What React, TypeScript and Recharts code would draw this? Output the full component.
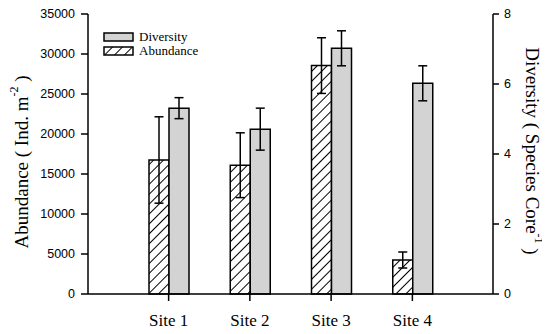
import React from 'react';
import { BarChart, Bar, XAxis, YAxis, ErrorBar, Legend } from 'recharts';

const sites = ['Site 1', 'Site 2', 'Site 3', 'Site 4'];
const abundance = [16750, 16100, 28550, 4250];
const abundanceErr = [5400, 4050, 3480, 1000];
const diversity = [5.31, 4.71, 7.02, 6.02];
const diversityErr = [0.3, 0.6, 0.5, 0.5];
const abundanceTicks = [0, 5000, 10000, 15000, 20000, 25000, 30000, 35000];
const diversityTicks = [0, 2, 4, 6, 8];

const data = sites.map((site, i) => ({
  site,
  abundance: abundance[i],
  abundanceErr: abundanceErr[i],
  diversity: diversity[i],
  diversityErr: diversityErr[i],
}));

const SERIF = '"Liberation Serif", "Times New Roman", serif';
const SANS = '"Liberation Sans", Arial, sans-serif';
const GRAY = '#d3d3d3';

const LeftTitle = (props: any) => {
  const vb = props.viewBox || { x: 0, y: 6, width: 80, height: 280 };
  const cx = vb.x + 13;
  const cy = vb.y + vb.height / 2 + 8;
  return (
    <text
      x={cx}
      y={cy}
      transform={`rotate(-90 ${cx} ${cy})`}
      textAnchor="middle"
      dominantBaseline="central"
      fontFamily={SERIF}
      fontSize={19}
      fill="#000"
    >
      Abundance ( Ind. m
      <tspan dy={-7} fontSize={12}>-2</tspan>
      <tspan dy={7}> )</tspan>
    </text>
  );
};

const RightTitle = (props: any) => {
  const vb = props.viewBox || { x: 485, y: 6, width: 57, height: 280 };
  const cx = vb.x + 39;
  const cy = vb.y + vb.height / 2 - 3;
  return (
    <text
      x={cx}
      y={cy}
      transform={`rotate(90 ${cx} ${cy})`}
      textAnchor="middle"
      dominantBaseline="central"
      fontFamily={SERIF}
      fontSize={19}
      fill="#000"
    >
      Diversity ( Species Core
      <tspan dy={-7} fontSize={12}>-1</tspan>
      <tspan dy={7}> )</tspan>
    </text>
  );
};

const LegendContent = () => (
  <div style={{ fontFamily: SERIF, fontSize: 13, color: '#000', lineHeight: '14px' }}>
    <div style={{ display: 'flex', alignItems: 'center', height: 14 }}>
      <svg width={31} height={10} style={{ marginRight: 5 }}>
        <rect x={1} y={1} width={29} height={8} fill={GRAY} stroke="#000" strokeWidth={1.5} />
      </svg>
      <span>Diversity</span>
    </div>
    <div style={{ display: 'flex', alignItems: 'center', height: 14 }}>
      <svg width={31} height={10} style={{ marginRight: 5 }}>
        <defs>
          <pattern id="hatchLegend" patternUnits="userSpaceOnUse" width={7} height={7} patternTransform="rotate(45)">
            <rect width={7} height={7} fill="#fff" />
            <line x1={0} y1={0} x2={0} y2={7} stroke="#000" strokeWidth={2} />
          </pattern>
        </defs>
        <rect x={1} y={1} width={29} height={8} fill="url(#hatchLegend)" stroke="#000" strokeWidth={1.5} />
      </svg>
      <span>Abundance</span>
    </div>
  </div>
);

export default function App() {
  return (
    <div style={{ width: 542, height: 318, overflow: 'visible' }}>
      <BarChart
        width={542}
        height={326}
        data={data}
        margin={{ top: 6, right: 0, left: 0, bottom: 8 }}
        barSize={20}
        barGap={0}
      >
        <defs>
          <pattern id="hatch" patternUnits="userSpaceOnUse" width={7} height={7} patternTransform="rotate(45)">
            <rect width={7} height={7} fill="#fff" />
            <line x1={0} y1={0} x2={0} y2={7} stroke="#000" strokeWidth={2} />
          </pattern>
        </defs>
        <XAxis
          dataKey="site"
          height={32}
          padding={{ left: 40, right: 40 }}
          axisLine={{ stroke: '#000', strokeWidth: 1.5 }}
          tickLine={{ stroke: '#000', strokeWidth: 1.5 }}
          tickSize={7}
          tickMargin={13}
          tick={{ fill: '#000', fontFamily: SERIF, fontSize: 17 }}
        />
        <XAxis
          xAxisId="top"
          dataKey="site"
          orientation="top"
          height={0}
          tick={false}
          tickLine={false}
          axisLine={{ stroke: '#000', strokeWidth: 1.5 }}
        />
        <YAxis
          yAxisId="left"
          width={80}
          domain={[0, 35000]}
          ticks={abundanceTicks}
          interval={0}
          axisLine={{ stroke: '#000', strokeWidth: 1.5 }}
          tickLine={{ stroke: '#000', strokeWidth: 1.5 }}
          tickSize={7}
          tickMargin={6}
          tick={{ fill: '#000', fontFamily: SANS, fontSize: 12.5 }}
          label={<LeftTitle />}
        />
        <YAxis
          yAxisId="right"
          orientation="right"
          width={57}
          domain={[0, 8]}
          ticks={diversityTicks}
          interval={0}
          axisLine={{ stroke: '#000', strokeWidth: 1.5 }}
          tickLine={{ stroke: '#000', strokeWidth: 1.5 }}
          tickSize={6}
          tickMargin={5}
          tick={{ fill: '#000', fontFamily: SANS, fontSize: 12.5 }}
          label={<RightTitle />}
        />
        <Legend
          layout="horizontal"
          verticalAlign="middle"
          align="center"
          content={<LegendContent />}
          wrapperStyle={{ position: 'absolute', left: 95, top: 22, width: 120, height: 30 }}
        />
        <Bar
          yAxisId="left"
          dataKey="abundance"
          name="Abundance"
          fill="url(#hatch)"
          stroke="#000"
          strokeWidth={1.5}
          isAnimationActive={false}
        >
          <ErrorBar dataKey="abundanceErr" width={4.5} stroke="#000" strokeWidth={1.5} direction="y" />
        </Bar>
        <Bar
          yAxisId="right"
          dataKey="diversity"
          name="Diversity"
          fill={GRAY}
          stroke="#000"
          strokeWidth={1.5}
          isAnimationActive={false}
        >
          <ErrorBar dataKey="diversityErr" width={4.5} stroke="#000" strokeWidth={1.5} direction="y" />
        </Bar>
      </BarChart>
    </div>
  );
}
